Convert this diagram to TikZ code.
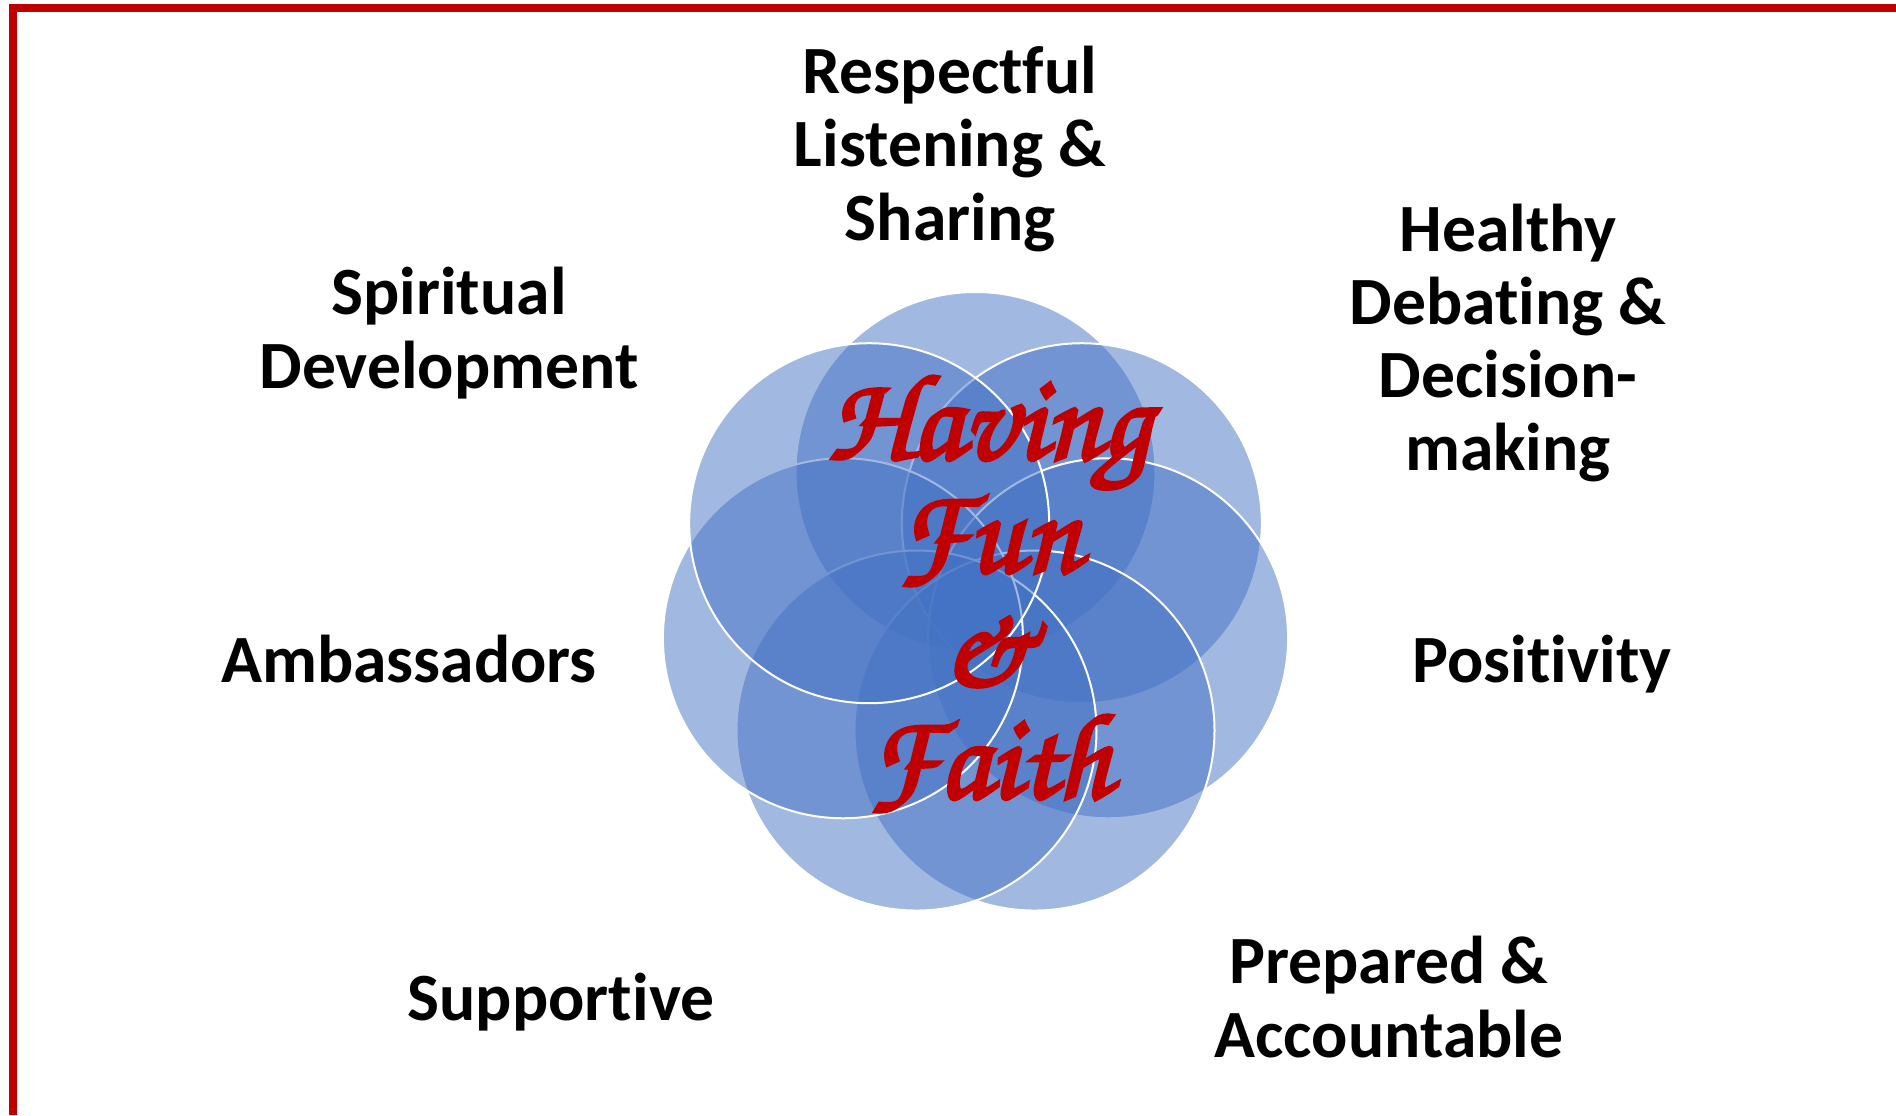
\documentclass[tikz,border=0pt]{standalone}
\usepackage{fontspec}
\setmainfont{Carlito}[Ligatures={NoCommon}]
\newfontfamily\chorus{texgyrechorus-mediumitalic.otf}[FakeBold=3]
\definecolor{frame}{HTML}{C00000}
\definecolor{accent}{HTML}{4472C4}
\begin{document}
\begin{tikzpicture}[x=0.5pt,y=-0.5pt,
  lbl/.style={font=\fontsize{33.8pt}{36.6pt}\selectfont\bfseries, align=center, inner sep=0pt},
  petal/.style={fill=accent, fill opacity=0.5, draw=white, line width=1pt}]
\useasboundingbox (0,0) rectangle (1896,1115);
\fill[white] (0,0) rectangle (1896,1115);
\draw[frame, line width=4pt] (13,1115) -- (13,8) -- (1896,8);
% seven overlapping circles, drawn clockwise from the top
\foreach \k in {0,...,6} {
  \path[petal] (975.5,608) ++({-90+\k*360/7}:136) circle [radius=180];
}
\node[text=frame, font=\chorus\fontsize{61pt}{56.5pt}\selectfont, align=center, inner sep=0pt] (core) at (989,594) {Having\\Fun\\\&\\Faith};
\node[lbl] (respect) at (950,149) {Respectful\\Listening \&\\Sharing};
\node[lbl] (spirit) at (449,333) {Spiritual\\Development};
\node[lbl] (debate) at (1508,343) {Healthy\\Debating \&\\Decision-\\making};
\node[lbl] (posit) at (1542,664) {Positivity};
\node[lbl] (ambass) at (409,659) {Ambassadors};
\node[lbl] (support) at (561,1002) {Supportive};
\node[lbl] (prep) at (1389,997) {Prepared \&\\Accountable};
\end{tikzpicture}
\end{document}
